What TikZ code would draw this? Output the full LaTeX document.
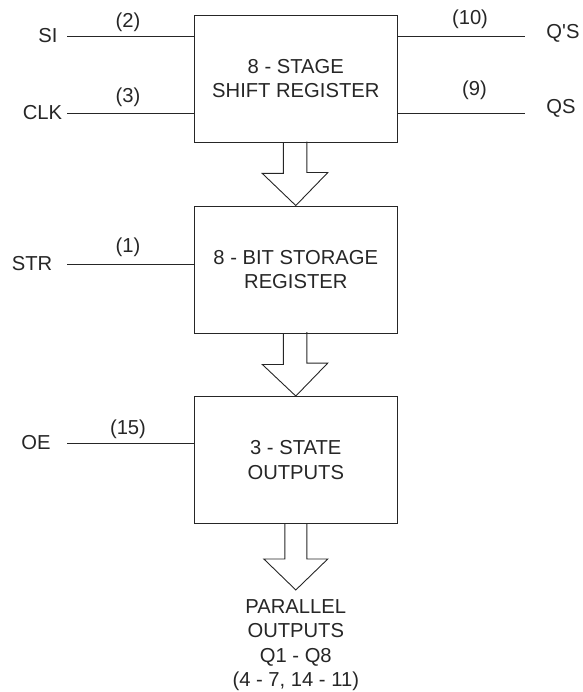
\documentclass[tikz,border=0pt]{standalone}
\usepackage{fontspec}
\setmainfont{Liberation Sans}
\newfontfamily\nolig{Liberation Sans}
\usetikzlibrary{calc}
\begin{document}
\begin{tikzpicture}[x=1pt,y=-1pt,
  blk/.style={draw=black!85, line width=0.9pt, minimum width=203pt, minimum height=127pt, inner sep=0pt, align=center, font=\fontsize{20.2}{24.6}\selectfont, text=black!85},
  lbl/.style={inner sep=0pt, font=\fontsize{20.2}{24.6}\selectfont, text=black!85},
  wire/.style={draw=black!85, line width=0.9pt},
  barrow/.style={draw=black!85, line width=0.9pt, line join=miter}]
\useasboundingbox (0,0) rectangle (582,692);
% boxes
\node[blk] (b1) at (295.8,78.5) {8 - STAGE\\SHIFT REGISTER};
\node[blk] (b2) at (295.8,269.5) {8 - BIT STORAGE\\REGISTER};
\node[blk] (b3) at (295.8,460) {3 - STATE\\OUTPUTS};
% input labels
\node[lbl] (si) at (48,35.5) {SI};
\node[lbl] (clk) at (42.5,113) {CLK};
\node[lbl] (str) at (32,263.5) {STR};
\node[lbl] (oe) at (36,443) {OE};
\node[lbl] (qps) at (563,33.5) {\nolig Q'S};
\node[lbl] (qs) at (561,108) {QS};
% pin numbers
\node[lbl] (p2) at (128,22) {(2)};
\node[lbl] (p3) at (128,97.5) {(3)};
\node[lbl] (p1) at (128,247.5) {(1)};
\node[lbl] (p15) at (128,429.5) {(15)};
\node[lbl] (p10) at (470,19) {(10)};
\node[lbl] (p9) at (474.5,90.5) {(9)};
% wire ends
\coordinate (siw) at (67,36);
\coordinate (clkw) at (67,113);
\coordinate (strw) at (67,264.5);
\coordinate (oew) at (67,443);
\coordinate (qpsw) at (525,36);
\coordinate (qsw) at (525,113);
\draw[wire] (siw) -- (b1.west |- siw);
\draw[wire] (clkw) -- (b1.west |- clkw);
\draw[wire] (strw) -- (b2.west |- strw);
\draw[wire] (oew) -- (b3.west |- oew);
\draw[wire] (b1.east |- qpsw) -- (qpsw);
\draw[wire] (b1.east |- qsw) -- (qsw);
% block arrows
\draw[barrow] ($(b1.south)+(-12.5,0)$) -- ++(0,31) -- ++(-21,0) -- (b2.north) -- ++(32,-33) -- ++(-21,0) -- ++(0,-31);
\draw[barrow] ($(b2.south)+(-12.5,0)$) -- ++(0,31) -- ++(-21,0) -- (b3.north) -- ++(32,-33) -- ++(-21,0) -- ++(0,-31);
\coordinate (tip) at ($(b3.south)+(0,66)$);
\draw[barrow] ($(b3.south)+(-11,0)$) -- ++(0,35) -- ++(-21,0) -- (tip) -- ++(32,-31) -- ++(-21,0) -- ++(0,-35);
% output text
\node[lbl, align=center, anchor=north] (po) at ($(tip)+(0,9)$) {PARALLEL\\OUTPUTS\\Q1 - Q8\\(4 - 7, 14 - 11)};
\end{tikzpicture}
\end{document}
